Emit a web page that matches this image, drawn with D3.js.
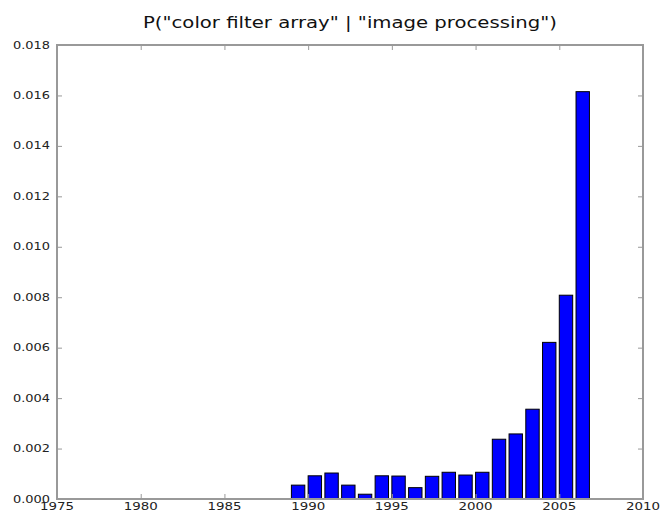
<!DOCTYPE html>
<html>
<head>
<meta charset="utf-8">
<script src="https://cdn.jsdelivr.net/npm/d3@7"></script>
<style>
  html, body { margin: 0; padding: 0; background: #fff; }
  svg { display: block; }
</style>
</head>
<body>
<svg id="chart" width="662" height="513"></svg>
<script>
const years = [1989, 1990, 1991, 1992, 1993, 1994, 1995, 1996, 1997, 1998, 1999, 2000, 2001, 2002, 2003, 2004, 2005, 2006];
const values = [0.00055, 0.00092, 0.00103, 0.00055, 0.00019, 0.00092, 0.00091, 0.00045, 0.00090, 0.00106, 0.00095, 0.00106, 0.00237, 0.00258, 0.00356, 0.00621, 0.00808, 0.01615];
const xTicks = [1975, 1980, 1985, 1990, 1995, 2000, 2005, 2010];
const yTicks = [0.000, 0.002, 0.004, 0.006, 0.008, 0.010, 0.012, 0.014, 0.016, 0.018];
const title = 'P("color filter array" | "image processing")';
const barWidth = 0.8;

(function () {
const svg = d3.select("#chart");
const pLeft = 57, pRight = 643, pTop = 45, pBottom = 499;

const x = d3.scaleLinear().domain([1975, 2010]).range([pLeft, pRight]);
const y = d3.scaleLinear().domain([0, 0.018]).range([pBottom, pTop]);

const frameColor = "#999";

// bars
svg.append("g").selectAll("rect").data(years).join("rect")
  .attr("x", (d) => x(d))
  .attr("width", (d) => x(d + barWidth) - x(d))
  .attr("y", (d, i) => y(values[i]))
  .attr("height", (d, i) => y(0) - y(values[i]))
  .attr("fill", "#0000ff")
  .attr("stroke", "#000")
  .attr("stroke-width", 1);

// axes (inward ticks)
const tickFont = "DejaVu Sans";
const xAxisB = d3.axisBottom(x).tickValues(xTicks).tickSize(-5).tickFormat("");
const xAxisT = d3.axisTop(x).tickValues(xTicks).tickSize(-5).tickFormat("");
const yAxisL = d3.axisLeft(y).tickValues(yTicks).tickSize(-5).tickFormat("");
const yAxisR = d3.axisRight(y).tickValues(yTicks).tickSize(-5).tickFormat("");

function styleAxis(g) {
  g.select(".domain").remove();
  g.selectAll(".tick line").attr("stroke", frameColor).attr("stroke-width", 1);
}
svg.append("g").attr("transform", `translate(0,${pBottom})`).call(xAxisB).call(styleAxis);
svg.append("g").attr("transform", `translate(0,${pTop})`).call(xAxisT).call(styleAxis);
svg.append("g").attr("transform", `translate(${pLeft},0)`).call(yAxisL).call(styleAxis);
svg.append("g").attr("transform", `translate(${pRight},0)`).call(yAxisR).call(styleAxis);

// frame
svg.append("rect")
  .attr("x", pLeft).attr("y", pTop)
  .attr("width", pRight - pLeft).attr("height", pBottom - pTop)
  .attr("fill", "none").attr("stroke", frameColor).attr("stroke-width", 2);

// tick labels
svg.append("g").selectAll("text").data(xTicks).join("text")
  .attr("x", (d) => x(d))
  .attr("y", pBottom + 11)
  .attr("text-anchor", "middle")
  .attr("font-family", tickFont)
  .attr("font-size", 10)
  .attr("fill", "#222")
  .attr("textLength", 34)
  .attr("lengthAdjust", "spacingAndGlyphs")
  .text((d) => d);

svg.append("g").selectAll("text").data(yTicks).join("text")
  .attr("x", pLeft - 7)
  .attr("y", (d) => y(d) + 3.5)
  .attr("text-anchor", "end")
  .attr("font-family", tickFont)
  .attr("font-size", 10)
  .attr("fill", "#222")
  .attr("textLength", 37)
  .attr("lengthAdjust", "spacingAndGlyphs")
  .text((d) => d3.format(".3f")(d));

// title
svg.append("text")
  .attr("x", (pLeft + pRight) / 2)
  .attr("y", 28)
  .attr("text-anchor", "middle")
  .attr("font-family", "DejaVu Sans")
  .attr("font-size", 15)
  .attr("fill", "#111")
  .attr("textLength", 414)
  .attr("lengthAdjust", "spacingAndGlyphs")
  .text(title);
})();
</script>
</body>
</html>
